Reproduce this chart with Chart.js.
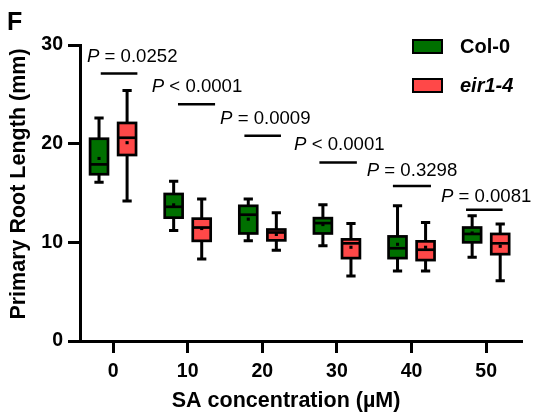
<!DOCTYPE html>
<html>
<head>
<meta charset="utf-8">
<script src="https://cdn.jsdelivr.net/npm/chart.js@4"></script>
<style>
  html, body { margin: 0; padding: 0; background: #ffffff; }
  #wrap { position: relative; width: 540px; height: 416px; }
</style>
</head>
<body>
<div id="wrap"><canvas id="c" width="540" height="416"></canvas></div>
<script>
// ---- data ----
const concentrations = [0, 10, 20, 30, 40, 50];
const seriesNames = ['Col-0', 'eir1-4'];

const col0Max    = [22.6, 16.2, 14.4, 13.8, 13.7, 12.7];
const col0Q3     = [20.5, 14.9, 13.7, 12.45, 10.6, 11.5];
const col0Median = [17.9, 13.6, 12.8, 11.95, 9.4, 10.85];
const col0Mean   = [18.5, 13.8, 12.35, 11.8, 9.8, 10.95];
const col0Q1     = [16.9, 12.5, 10.9, 10.9, 8.4, 10.0];
const col0Min    = [16.1, 11.2, 10.15, 9.65, 7.1, 8.5];

const eirMax    = [25.4, 14.4, 13.0, 11.9, 12.0, 11.85];
const eirQ3     = [22.1, 12.4, 11.3, 10.3, 10.1, 10.85];
const eirMedian = [20.6, 11.5, 11.0, 9.9, 9.25, 9.9];
const eirMean   = [20.1, 11.4, 10.8, 9.5, 9.5, 9.6];
const eirQ1     = [18.85, 10.15, 10.2, 8.4, 8.2, 8.8];
const eirMin    = [14.2, 8.3, 9.2, 6.6, 7.1, 6.1];

const pValueLabels = ['P = 0.0252', 'P < 0.0001', 'P = 0.0009', 'P < 0.0001', 'P = 0.3298', 'P = 0.0081'];
const yTickValues = [0, 10, 20, 30];

// ---- annotation placement (data units) ----
const sigLineY    = [27.1, 24.0, 20.8, 18.1, 15.7, 13.3];
const sigLineFrom = [-1.65, 8.7, 17.6, 27.65, 37.5, 47.3];
const sigLineTo   = [3.26, 13.67, 22.5, 32.67, 42.6, 52.2];
const sigTextX    = [-3.49, 5.19, 14.34, 24.26, 34.0, 43.93];
const sigTextY    = [28.8, 25.75, 22.5, 19.9, 17.2, 14.65];

const GREEN = '#007000';
const RED = '#ff4848';
const FONT = "'Liberation Sans', Arial, sans-serif";
const GROUP_OFFSET = 1.88;
const BOX_HALF = 1.2;
const CAP_HALF = 0.62;

const boxSeries = [
  { color: GREEN, offset: -GROUP_OFFSET, max: col0Max, q3: col0Q3, med: col0Median, q1: col0Q1, min: col0Min },
  { color: RED,   offset:  GROUP_OFFSET, max: eirMax,  q3: eirQ3,  med: eirMedian,  q1: eirQ1,  min: eirMin }
];

const boxPlugin = {
  id: 'boxes',
  beforeDatasetsDraw(chart) {
    const ctx = chart.ctx, xs = chart.scales.x, ys = chart.scales.y;
    ctx.save();
    boxSeries.forEach(s => {
      concentrations.forEach((c, i) => {
        const xc = xs.getPixelForValue(c + s.offset);
        const hw = xs.getPixelForValue(c + s.offset + BOX_HALF) - xc;
        const cw = xs.getPixelForValue(c + s.offset + CAP_HALF) - xc;
        const yMax = ys.getPixelForValue(s.max[i]);
        const yQ3 = ys.getPixelForValue(s.q3[i]);
        const yMed = ys.getPixelForValue(s.med[i]);
        const yQ1 = ys.getPixelForValue(s.q1[i]);
        const yMin = ys.getPixelForValue(s.min[i]);
        ctx.strokeStyle = '#000';
        ctx.lineWidth = 3;
        ctx.lineCap = 'butt';
        ctx.beginPath();
        ctx.moveTo(xc, yMax); ctx.lineTo(xc, yQ3);
        ctx.moveTo(xc, yQ1); ctx.lineTo(xc, yMin);
        ctx.moveTo(xc - cw, yMax); ctx.lineTo(xc + cw, yMax);
        ctx.moveTo(xc - cw, yMin); ctx.lineTo(xc + cw, yMin);
        ctx.stroke();
        ctx.fillStyle = s.color;
        ctx.fillRect(xc - hw, yQ3, 2 * hw, yQ1 - yQ3);
        ctx.lineWidth = 2.7;
        ctx.strokeRect(xc - hw, yQ3, 2 * hw, yQ1 - yQ3);
        ctx.beginPath();
        ctx.moveTo(xc - hw, yMed); ctx.lineTo(xc + hw, yMed);
        ctx.stroke();
      });
    });
    ctx.restore();
  }
};

const annotPlugin = {
  id: 'annot',
  afterDatasetsDraw(chart) {
    const ctx = chart.ctx, xs = chart.scales.x, ys = chart.scales.y;
    ctx.save();
    ctx.strokeStyle = '#000';
    ctx.lineWidth = 2.5;
    pValueLabels.forEach((lab, i) => {
      const y = ys.getPixelForValue(sigLineY[i]);
      ctx.beginPath();
      ctx.moveTo(xs.getPixelForValue(sigLineFrom[i]), y);
      ctx.lineTo(xs.getPixelForValue(sigLineTo[i]), y);
      ctx.stroke();
      const tx = xs.getPixelForValue(sigTextX[i]);
      const ty = ys.getPixelForValue(sigTextY[i]);
      ctx.fillStyle = '#000';
      ctx.textBaseline = 'middle';
      ctx.textAlign = 'left';
      ctx.font = 'italic 18.6px ' + FONT;
      const first = lab.charAt(0);
      ctx.fillText(first, tx, ty);
      const w = ctx.measureText(first).width;
      ctx.font = '18.6px ' + FONT;
      ctx.fillText(lab.slice(1), tx + w, ty);
    });
    ctx.restore();
  },
  afterDraw(chart) {
    const ctx = chart.ctx;
    ctx.save();
    // panel letter
    ctx.fillStyle = '#000';
    ctx.font = 'bold 25px ' + FONT;
    ctx.textBaseline = 'alphabetic';
    ctx.textAlign = 'left';
    ctx.fillText('F', 7, 30);
    // legend
    const items = [
      { text: seriesNames[0], color: GREEN, italic: false, y: 40 },
      { text: seriesNames[1], color: RED, italic: true, y: 79 }
    ];
    items.forEach(it => {
      ctx.fillStyle = it.color;
      ctx.fillRect(413, it.y, 29, 13);
      ctx.strokeStyle = '#000';
      ctx.lineWidth = 2;
      ctx.strokeRect(413, it.y, 29, 13);
      ctx.fillStyle = '#000';
      ctx.font = (it.italic ? 'italic ' : '') + 'bold 20px ' + FONT;
      ctx.textBaseline = 'middle';
      ctx.fillText(it.text, 460, it.y + 7);
    });
    ctx.restore();
  }
};

const meanData = (means, off) => concentrations.map((c, i) => ({ x: c + off, y: means[i] }));

new Chart(document.getElementById('c'), {
  type: 'scatter',
  data: {
    datasets: [
      { label: seriesNames[0], data: meanData(col0Mean, -GROUP_OFFSET), pointStyle: 'rect', pointRadius: 2.2,
        backgroundColor: '#000', borderColor: '#000', borderWidth: 0 },
      { label: seriesNames[1], data: meanData(eirMean, GROUP_OFFSET), pointStyle: 'rect', pointRadius: 2.2,
        backgroundColor: '#000', borderColor: '#000', borderWidth: 0 }
    ]
  },
  options: {
    responsive: false,
    animation: false,
    events: [],
    layout: { padding: { left: 0, right: 18, top: 45, bottom: 0 } },
    plugins: { legend: { display: false }, tooltip: { enabled: false } },
    scales: {
      x: {
        type: 'linear',
        min: -4.43,
        max: 54.8,
        afterBuildTicks(scale) { scale.ticks = concentrations.map(v => ({ value: v })); },
        afterFit(scale) { scale.height = 75; },
        border: { display: true, color: '#000', width: 3 },
        grid: { drawOnChartArea: false, drawTicks: true, tickLength: 12, tickWidth: 3, tickColor: '#000' },
        ticks: { color: '#000', font: { family: FONT, size: 19.5, weight: 'bold' }, padding: 7, maxRotation: 0 },
        title: { display: true, text: 'SA concentration (µM)     ', color: '#000',
                 font: { family: FONT, size: 21.5, weight: 'bold' }, padding: { top: 0, bottom: 2 } }
      },
      y: {
        min: 0,
        max: 30,
        afterBuildTicks(scale) { scale.ticks = yTickValues.map(v => ({ value: v })); },
        afterFit(scale) { scale.width = 80; },
        border: { display: true, color: '#000', width: 3 },
        grid: { drawOnChartArea: false, drawTicks: true, tickLength: 12, tickWidth: 3, tickColor: '#000' },
        ticks: { color: '#000', font: { family: FONT, size: 19.5, weight: 'bold' }, padding: 5 },
        title: { display: true, text: '   Primary Root Length (mm)', color: '#000',
                 font: { family: FONT, size: 21.5, weight: 'bold' }, padding: { top: 6, bottom: 0 } }
      }
    }
  },
  plugins: [boxPlugin, annotPlugin]
});
</script>
</body>
</html>
